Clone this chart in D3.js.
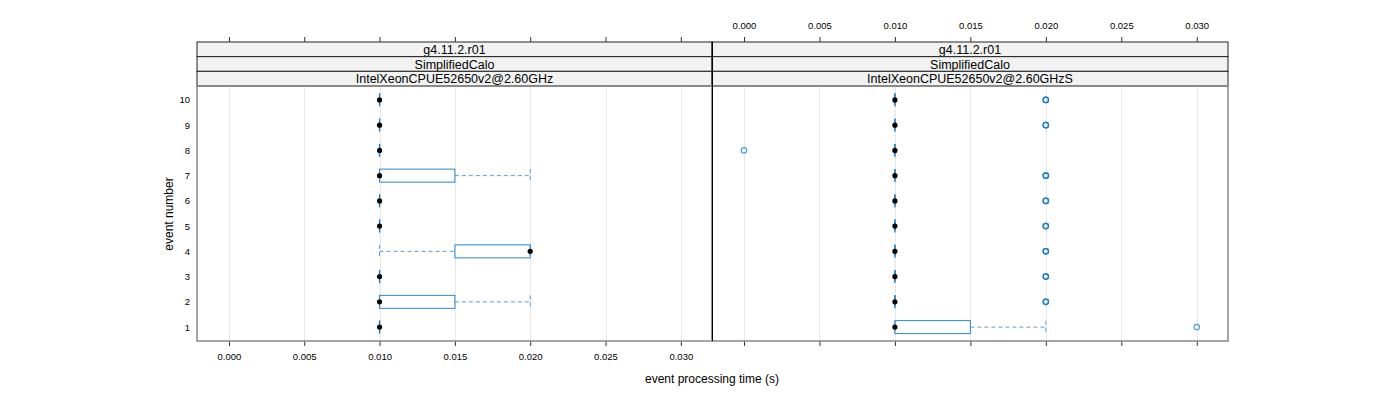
<!DOCTYPE html>
<html><head><meta charset="utf-8">
<script src="https://cdn.jsdelivr.net/npm/d3@7/dist/d3.min.js"></script>
<style>body{margin:0;background:#fff;}svg{display:block;font-family:"Liberation Sans",Arial,sans-serif;}</style>
</head><body><svg id="c" width="1400" height="400"></svg>
<script>
const events = [1,2,3,4,5,6,7,8,9,10];
const xTicks = [0,0.005,0.010,0.015,0.020,0.025,0.030];
const panelNames = ["IntelXeonCPUE52650v2@2.60GHz","IntelXeonCPUE52650v2@2.60GHzS"];
const strip1 = "g4.11.2.r01", strip2 = "SimplifiedCalo";
// left panel stats per event
const leftLo  = [0.010,0.010,0.010,0.010,0.010,0.010,0.010,0.010,0.010,0.010];
const leftQ1  = [0.010,0.010,0.010,0.015,0.010,0.010,0.010,0.010,0.010,0.010];
const leftMed = [0.010,0.010,0.010,0.020,0.010,0.010,0.010,0.010,0.010,0.010];
const leftQ3  = [0.010,0.015,0.010,0.020,0.010,0.010,0.015,0.010,0.010,0.010];
const leftHi  = [0.010,0.020,0.010,0.020,0.010,0.010,0.020,0.010,0.010,0.010];
const leftOut = [[],[],[],[],[],[],[],[],[],[]];
// right panel stats per event
const rightLo  = [0.010,0.010,0.010,0.010,0.010,0.010,0.010,0.010,0.010,0.010];
const rightQ1  = [0.010,0.010,0.010,0.010,0.010,0.010,0.010,0.010,0.010,0.010];
const rightMed = [0.010,0.010,0.010,0.010,0.010,0.010,0.010,0.010,0.010,0.010];
const rightQ3  = [0.015,0.010,0.010,0.010,0.010,0.010,0.010,0.010,0.010,0.010];
const rightHi  = [0.020,0.010,0.010,0.010,0.010,0.010,0.010,0.010,0.010,0.010];
const rightOut = [[0.030],[0.020,0.020,0.020],[0.020,0.020,0.020],[0.020,0.020,0.020],[0.020,0.020,0.020],[0.020,0.020,0.020],[0.020,0.020,0.020],[0.000],[0.020,0.020,0.020],[0.020,0.020,0.020]];

const svg = d3.select("#c");
const blue = "#2a88cc";
const pTop = 86, pBottom = 341, stripTop = 42, stripH = (86-42)/3;
const panels = [
  {x0:197, x1:712, name:panelNames[0], lo:leftLo,q1:leftQ1,med:leftMed,q3:leftQ3,hi:leftHi,out:leftOut, bottomLabels:true, topLabels:false},
  {x0:712, x1:1228, name:panelNames[1], lo:rightLo,q1:rightQ1,med:rightMed,q3:rightQ3,hi:rightHi,out:rightOut, bottomLabels:false, topLabels:true}
];
const y = d3.scaleLinear().domain([0.45,10.55]).range([pBottom, pTop]);
const bh = 13;

panels.forEach((p,pi)=>{
  const x = d3.scaleLinear().domain([-0.00212,0.03207]).range([p.x0,p.x1]);
  const g = svg.append("g");
  g.selectAll(".grid").data(xTicks).join("line")
    .attr("x1",d=>Math.round(x(d))+0.5).attr("x2",d=>Math.round(x(d))+0.5)
    .attr("y1",pTop).attr("y2",pBottom).attr("stroke","#e8e8e8").attr("stroke-width",1);
  events.forEach((e,i)=>{
    const yc = y(e);
    const segs = [];
    if (p.lo[i] < p.q1[i]) segs.push([p.lo[i],p.q1[i]]);
    if (p.hi[i] > p.q3[i]) segs.push([p.q3[i],p.hi[i]]);
    segs.forEach(s=>{
      g.append("line").attr("x1",x(s[0])).attr("x2",x(s[1])).attr("y1",yc).attr("y2",yc)
        .attr("stroke",blue).attr("stroke-opacity",0.8).attr("stroke-dasharray","4,3");
    });
    [p.lo[i],p.hi[i]].forEach(v=>{
      g.append("line").attr("x1",x(v)).attr("x2",x(v)).attr("y1",yc-bh/2).attr("y2",yc+bh/2)
        .attr("stroke",blue).attr("stroke-opacity",0.8).attr("stroke-dasharray","4,3");
    });
    g.append("rect").attr("x",x(p.q1[i])).attr("width",x(p.q3[i])-x(p.q1[i]))
      .attr("y",yc-bh/2).attr("height",bh).attr("fill","none").attr("stroke",blue);
    if (p.q3[i]===p.q1[i]) {
      g.append("line").attr("x1",x(p.q1[i])).attr("x2",x(p.q1[i])).attr("y1",yc-bh/2).attr("y2",yc+bh/2)
        .attr("stroke","#1a78c0").attr("stroke-width",1.3);
    }
    g.append("circle").attr("cx",x(p.med[i])).attr("cy",yc).attr("r",2.6).attr("fill","#000");
    p.out[i].forEach(v=>{
      g.append("circle").attr("cx",x(v)).attr("cy",yc).attr("r",2.7).attr("fill","none")
        .attr("stroke","#1a7cc6").attr("stroke-opacity",0.75).attr("stroke-width",1.2);
    });
  });
  [strip1,strip2,p.name].forEach((t,k)=>{
    g.append("rect").attr("x",p.x0).attr("y",stripTop+k*stripH).attr("width",p.x1-p.x0).attr("height",stripH)
      .attr("fill","#f2f2f2").attr("stroke","#222").attr("stroke-width",1);
    g.append("text").attr("x",(p.x0+p.x1)/2).attr("y",stripTop+k*stripH+stripH/2+4.5)
      .attr("text-anchor","middle").attr("font-size",12.5).attr("fill","#000").text(t);
  });
  const ab = g.append("g").attr("transform",`translate(0,${pBottom})`)
    .call(d3.axisBottom(x).tickValues(xTicks).tickSize(5).tickSizeOuter(0).tickFormat(p.bottomLabels?d3.format(".3f"):()=>""));
  ab.select(".domain").remove();
  ab.selectAll("line").attr("stroke","#333");
  ab.selectAll("text").attr("font-size",9.5).attr("font-family","Liberation Sans, Arial, sans-serif").attr("dy","1.2em");
  const at = g.append("g").attr("transform",`translate(0,${stripTop})`)
    .call(d3.axisTop(x).tickValues(xTicks).tickSize(5).tickSizeOuter(0).tickFormat(p.topLabels?d3.format(".3f"):()=>""));
  at.select(".domain").remove();
  at.selectAll("line").attr("stroke","#333");
  at.selectAll("text").attr("font-size",9.5).attr("font-family","Liberation Sans, Arial, sans-serif").attr("dy","-0.5em");
  g.append("rect").attr("x",p.x0).attr("y",pTop).attr("width",p.x1-p.x0).attr("height",pBottom-pTop)
    .attr("fill","none").attr("stroke","#888").attr("stroke-width",1.5);
});
svg.append("line").attr("x1",712.5).attr("x2",712.5).attr("y1",42).attr("y2",pBottom).attr("stroke","#000");
svg.append("g").selectAll("text").data(events).join("text")
  .attr("x",190).attr("y",d=>y(d)+3.5).attr("text-anchor","end").attr("font-size",9.5).text(d=>d);
svg.append("text").attr("transform","translate(173,214) rotate(-90)").attr("text-anchor","middle")
  .attr("font-size",12).text("event number");
svg.append("text").attr("x",712).attr("y",383).attr("text-anchor","middle").attr("font-size",12)
  .text("event processing time (s)");
</script></body></html>
